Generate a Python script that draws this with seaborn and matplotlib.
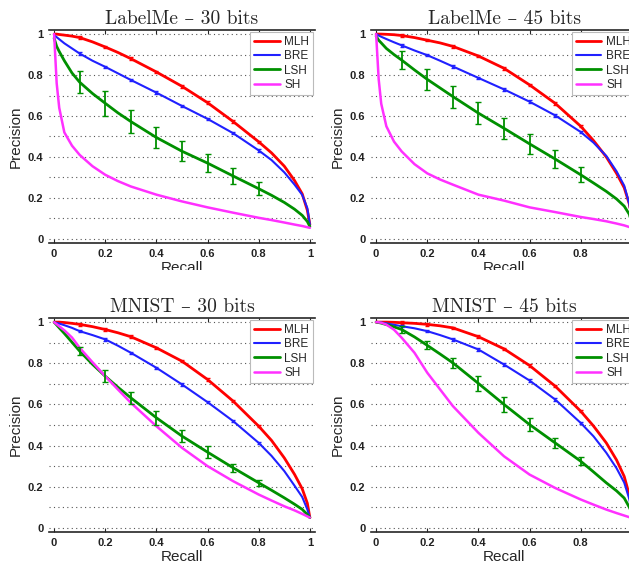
import numpy as np
import pandas as pd
import seaborn as sns
import matplotlib.pyplot as plt
from matplotlib.patches import Rectangle

# recall grid shared by every curve
RECALL = [0, 0.005, 0.01, 0.02, 0.04, 0.07, 0.1, 0.15, 0.2, 0.25, 0.3,
          0.4, 0.5, 0.6, 0.7, 0.8, 0.85, 0.9, 0.94, 0.97, 0.99, 1.0]

# LabelMe 30 bits
LM30_MLH = [1.0, 1.0, 1.0, 0.998, 0.995, 0.99, 0.983, 0.962, 0.937, 0.91, 0.88,
            0.815, 0.745, 0.665, 0.573, 0.474, 0.42, 0.355, 0.285, 0.22, 0.14, 0.07]
LM30_BRE = [0.995, 0.99, 0.985, 0.975, 0.955, 0.93, 0.905, 0.87, 0.84, 0.808, 0.776,
            0.714, 0.649, 0.586, 0.516, 0.432, 0.385, 0.325, 0.265, 0.215, 0.15, 0.07]
LM30_LSH = [0.98, 0.96, 0.94, 0.915, 0.87, 0.81, 0.765, 0.71, 0.662, 0.615, 0.573,
            0.495, 0.428, 0.37, 0.307, 0.245, 0.213, 0.178, 0.145, 0.115, 0.085, 0.06]
LM30_SH = [1.0, 0.88, 0.76, 0.64, 0.52, 0.455, 0.41, 0.355, 0.313, 0.282, 0.256,
           0.216, 0.183, 0.154, 0.128, 0.103, 0.092, 0.08, 0.07, 0.063, 0.057, 0.054]

# LabelMe 45 bits
LM45_MLH = [1.0, 1.0, 1.0, 1.0, 0.999, 0.997, 0.993, 0.983, 0.97, 0.957, 0.94,
            0.893, 0.833, 0.752, 0.662, 0.55, 0.48, 0.40, 0.32, 0.25, 0.17, 0.1]
LM45_BRE = [1.0, 0.997, 0.993, 0.987, 0.976, 0.96, 0.945, 0.92, 0.897, 0.87, 0.842,
            0.786, 0.73, 0.67, 0.603, 0.522, 0.47, 0.405, 0.33, 0.26, 0.17, 0.08]
LM45_LSH = [0.99, 0.98, 0.97, 0.957, 0.93, 0.9, 0.873, 0.825, 0.779, 0.737, 0.695,
            0.614, 0.54, 0.464, 0.39, 0.313, 0.273, 0.232, 0.195, 0.16, 0.12, 0.07]
LM45_SH = [1.0, 0.89, 0.78, 0.66, 0.55, 0.475, 0.427, 0.365, 0.32, 0.29, 0.265,
           0.216, 0.187, 0.154, 0.131, 0.107, 0.097, 0.086, 0.075, 0.066, 0.058, 0.054]

# MNIST 30 bits
MN30_MLH = [1.0, 1.0, 1.0, 1.0, 0.998, 0.994, 0.989, 0.978, 0.964, 0.948, 0.929,
            0.875, 0.81, 0.721, 0.616, 0.494, 0.425, 0.34, 0.26, 0.19, 0.12, 0.05]
MN30_BRE = [1.0, 0.998, 0.996, 0.993, 0.985, 0.972, 0.956, 0.937, 0.916, 0.885, 0.851,
            0.778, 0.697, 0.611, 0.519, 0.413, 0.35, 0.276, 0.205, 0.15, 0.09, 0.05]
MN30_LSH = [1.0, 0.993, 0.986, 0.972, 0.945, 0.902, 0.859, 0.795, 0.737, 0.683, 0.632,
            0.535, 0.446, 0.368, 0.292, 0.219, 0.183, 0.146, 0.115, 0.09, 0.065, 0.05]
MN30_SH = [1.0, 0.995, 0.99, 0.98, 0.96, 0.925, 0.875, 0.805, 0.737, 0.672, 0.608,
           0.494, 0.389, 0.30, 0.227, 0.162, 0.133, 0.105, 0.085, 0.068, 0.056, 0.05]

# MNIST 45 bits
MN45_MLH = [1.0, 1.0, 1.0, 1.0, 1.0, 0.999, 0.997, 0.994, 0.989, 0.982, 0.972,
            0.929, 0.87, 0.789, 0.689, 0.567, 0.495, 0.413, 0.33, 0.25, 0.16, 0.09]
MN45_BRE = [1.0, 1.0, 0.999, 0.998, 0.994, 0.987, 0.98, 0.97, 0.956, 0.937, 0.916,
            0.867, 0.794, 0.716, 0.624, 0.51, 0.445, 0.365, 0.29, 0.22, 0.14, 0.07]
MN45_LSH = [1.0, 0.999, 0.998, 0.995, 0.988, 0.977, 0.964, 0.928, 0.887, 0.845, 0.802,
            0.702, 0.60, 0.502, 0.413, 0.324, 0.272, 0.219, 0.18, 0.145, 0.1, 0.07]
MN45_SH = [1.0, 1.0, 0.999, 0.997, 0.988, 0.963, 0.924, 0.851, 0.754, 0.673, 0.592,
           0.462, 0.348, 0.259, 0.194, 0.138, 0.113, 0.089, 0.072, 0.06, 0.052, 0.05]

# error bars (half width) at recall 0.1 ... 0.8
ERR_X = [0.1, 0.2, 0.3, 0.4, 0.5, 0.6, 0.7, 0.8]
LM30_LSH_ERR = [0.053, 0.06, 0.057, 0.053, 0.05, 0.043, 0.04, 0.032]
LM45_LSH_ERR = [0.045, 0.05, 0.054, 0.054, 0.05, 0.05, 0.045, 0.037]
MN30_LSH_ERR = [0.02, 0.03, 0.03, 0.035, 0.03, 0.03, 0.02, 0.015]
MN45_LSH_ERR = [0.015, 0.02, 0.025, 0.035, 0.035, 0.033, 0.025, 0.02]
SMALL_ERR = [0.006] * 8

METHODS = ["MLH", "BRE", "LSH", "SH"]
COLORS = {"MLH": "#ff0000", "BRE": "#2020ff", "LSH": "#009000", "SH": "#ff30ff"}
WIDTHS = {"MLH": 2.0, "BRE": 1.5, "LSH": 2.0, "SH": 1.8}
TICKS = [0, 0.2, 0.4, 0.6, 0.8, 1]
TICK_LABELS = ["0", "0.2", "0.4", "0.6", "0.8", "1"]

panels = [
    ("LabelMe – 30 bits", [LM30_MLH, LM30_BRE, LM30_LSH, LM30_SH], LM30_LSH_ERR),
    ("LabelMe – 45 bits", [LM45_MLH, LM45_BRE, LM45_LSH, LM45_SH], LM45_LSH_ERR),
    ("MNIST – 30 bits", [MN30_MLH, MN30_BRE, MN30_LSH, MN30_SH], MN30_LSH_ERR),
    ("MNIST – 45 bits", [MN45_MLH, MN45_BRE, MN45_LSH, MN45_SH], MN45_LSH_ERR),
]

sns.set_style("white")
plt.rcParams["font.family"] = ["Liberation Sans", "DejaVu Sans"]

W, H = 629, 561
fig = plt.figure(figsize=(W / 100, H / 100), dpi=100)

# axes boxes in pixels: left, top, width, height (right column runs past the edge)
boxes = [(49, 30, 266, 213), (371, 30, 266, 213),
         (49, 318, 266, 214), (371, 318, 266, 214)]

for i, ((title, curves, lsh_err), (l, t, w, h)) in enumerate(zip(panels, boxes)):
    ax = fig.add_axes([l / W, 1 - (t + h) / H, w / W, h / H])

    df = pd.concat([pd.DataFrame({"Recall": RECALL, "Precision": c, "method": m})
                    for m, c in zip(METHODS, curves)])
    for m in METHODS:
        sns.lineplot(data=df[df["method"] == m], x="Recall", y="Precision",
                     color=COLORS[m], lw=WIDTHS[m], label=m, ax=ax,
                     estimator=None, sort=False, zorder=3)

    # error bars at the sample points
    for m, err, cap in [("MLH", SMALL_ERR, 1.5), ("BRE", SMALL_ERR, 1.5), ("LSH", lsh_err, 2.2)]:
        sub = df[(df["method"] == m) & (df["Recall"].isin(ERR_X))]
        ax.errorbar(sub["Recall"], sub["Precision"], yerr=err, fmt="none",
                    ecolor=COLORS[m], elinewidth=1.3, capsize=cap, capthick=1.0,
                    zorder=3)

    ax.set_xlim(-0.02, 1.02)
    ax.set_ylim(-0.02, 1.02)
    ax.set_xticks(TICKS)
    # the last x label of the right column falls outside the picture
    ax.set_xticklabels(TICK_LABELS[:-1] + ([""] if i % 2 else ["1"]))
    ax.set_yticks(TICKS)
    ax.set_yticklabels(TICK_LABELS)
    ax.set_yticks(np.arange(0.1, 1.0, 0.2), minor=True)
    ax.grid(axis="y", which="both", color="#555555", linestyle=(0, (1, 3)), lw=0.8)
    ax.tick_params(axis="x", direction="in", top=True, bottom=True, length=3,
                   width=0.8, labelsize=8, pad=4)
    ax.tick_params(axis="y", which="both", length=0, labelsize=8, pad=4)
    for lab in ax.get_xticklabels() + ax.get_yticklabels():
        lab.set_fontweight("bold")
        lab.set_color("#222222")
    ax.spines["left"].set_visible(False)
    ax.spines["right"].set_visible(False)
    ax.spines["top"].set_linewidth(1.2)
    ax.spines["bottom"].set_linewidth(1.2)

    ax.set_xlabel("Recall", fontsize=11, labelpad=2)
    ax.set_ylabel("Precision", fontsize=11, labelpad=4)
    ax.set_title(title, fontsize=14, family=["cmr10", "DejaVu Serif"], pad=4)

    leg = ax.legend(loc="upper right", fontsize=8.5, handlelength=2.2,
                    borderaxespad=0.2, fancybox=False, framealpha=1,
                    edgecolor="#bbbbbb", borderpad=0.3, labelspacing=0.2,
                    handletextpad=0.4)
    leg.get_frame().set_linewidth(0.8)

# the lower images cover the bottom of the upper "Recall" labels
fig.patches.append(Rectangle((0, 1 - 292 / H), 1, 22 / H, transform=fig.transFigure,
                             facecolor="white", edgecolor="none", zorder=5))

fig.savefig("out.png", dpi=100)
